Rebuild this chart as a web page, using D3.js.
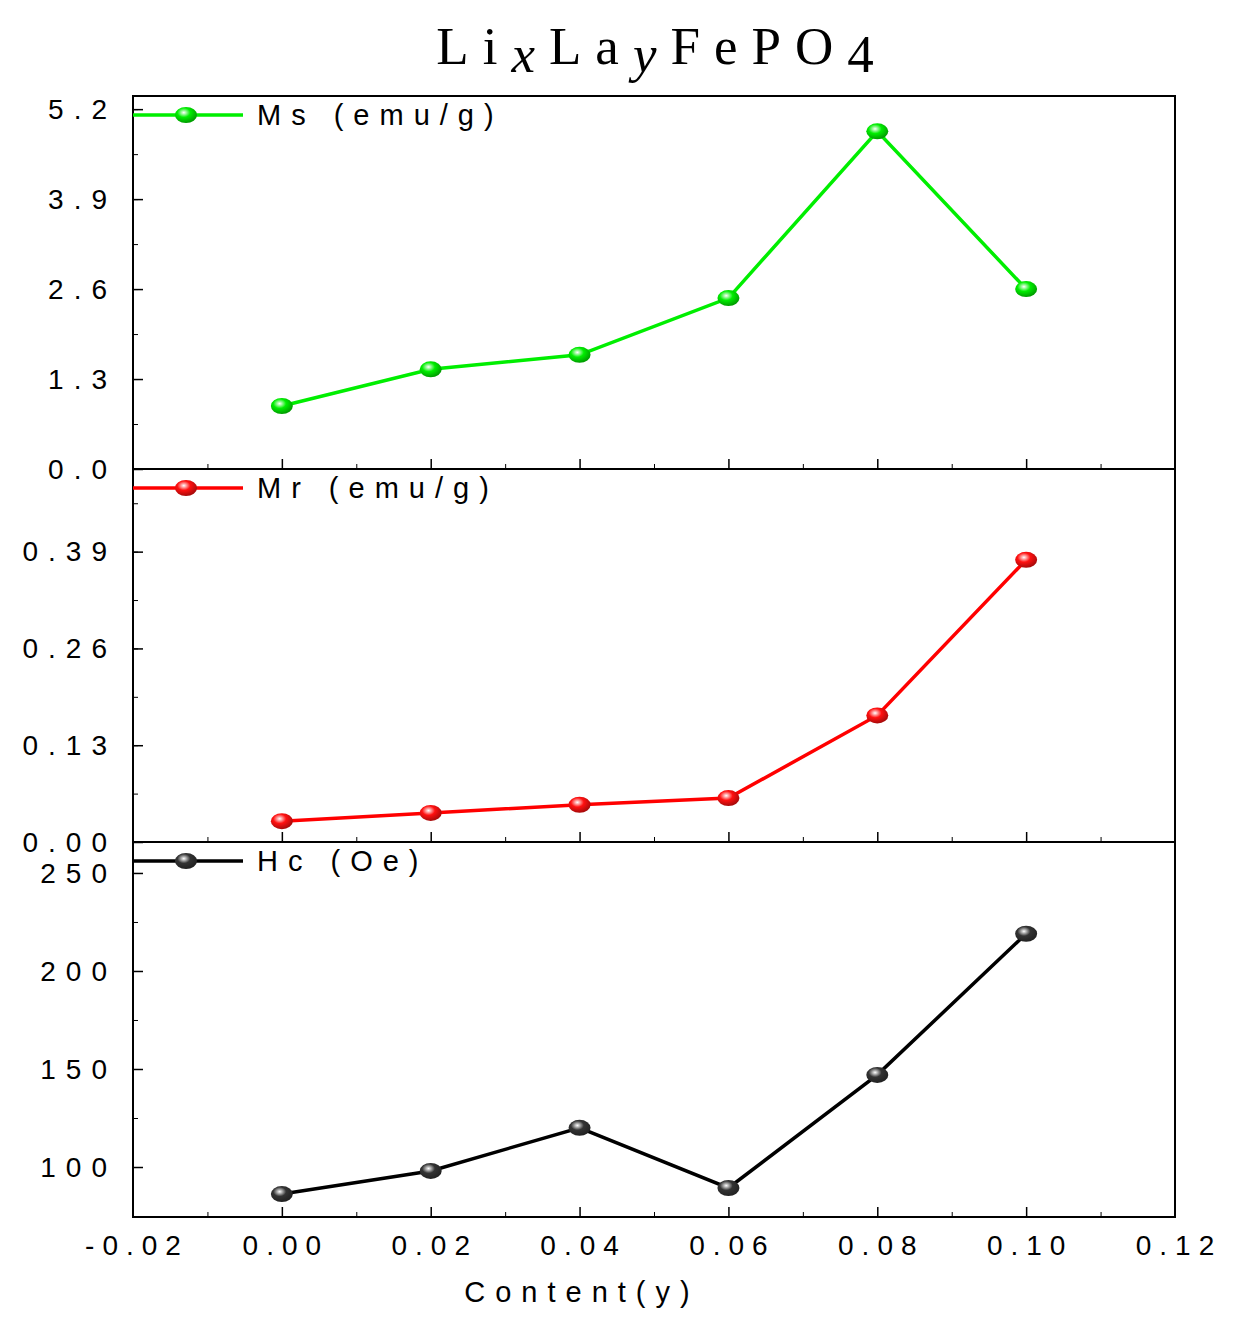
<!DOCTYPE html>
<html><head><meta charset="utf-8">
<script src="https://cdn.jsdelivr.net/npm/d3@7"></script>
<style>body{margin:0;background:#fff}</style></head>
<body><svg id="chart" width="1233" height="1323"></svg>
<script>
const content = [0.00, 0.02, 0.04, 0.06, 0.08, 0.10];
const msValues = [0.91, 1.44, 1.65, 2.47, 4.88, 2.60];
const mrValues = [0.028, 0.039, 0.050, 0.059, 0.170, 0.379];
const hcValues = [86.2, 98, 120, 89.3, 147, 219];
const xTicks = [-0.02, 0, 0.02, 0.04, 0.06, 0.08, 0.10, 0.12];
const msTicks = [0, 1.3, 2.6, 3.9, 5.2];
const mrTicks = [0, 0.13, 0.26, 0.39];
const hcTicks = [100, 150, 200, 250];

const svg = d3.select("#chart");
const left = 133, right = 1175;
const font = "Arial, 'Liberation Sans', sans-serif";

const x = d3.scaleLinear().domain([-0.02, 0.12]).range([left, right]);

// sphere gradients
const defs = svg.append("defs");
function grad(id, c) {
  const g = defs.append("radialGradient").attr("id", id)
    .attr("cx", "40%").attr("cy", "35%").attr("r", "65%");
  g.append("stop").attr("offset", "0%").attr("stop-color", "#fff");
  g.append("stop").attr("offset", "45%").attr("stop-color", c);
  g.append("stop").attr("offset", "100%").attr("stop-color", d3.color(c).darker(1.2));
}
grad("gG", "#00ee00"); grad("gR", "#ff1010"); grad("gK", "#333");

const panels = [
  {vals: msValues, ticks: msTicks, dom: [0, 5.39], top: 96, bot: 469, color: "#00ee00", g: "gG", label: "Ms (emu/g)", fmt: d3.format(".1f"), minor: 0.65},
  {vals: mrValues, ticks: mrTicks, dom: [0, 0.501], top: 469, bot: 842, color: "#ff0000", g: "gR", label: "Mr (emu/g)", fmt: d3.format(".2f"), minor: 0.065},
  {vals: hcValues, ticks: hcTicks, dom: [74.5, 265.8], top: 842, bot: 1217, color: "#000", g: "gK", label: "Hc (Oe)", fmt: d3.format("d"), minor: 25}
];

panels.forEach(p => {
  const y = d3.scaleLinear().domain(p.dom).range([p.bot, p.top]);

  svg.append("rect").attr("x", left).attr("y", p.top)
    .attr("width", right - left).attr("height", p.bot - p.top)
    .attr("fill", "none").attr("stroke", "#000").attr("stroke-width", 2);

  // left axis, inward ticks
  const minors = d3.range(p.ticks[0] - p.minor * 2, p.dom[1], p.minor)
    .filter(v => v > p.dom[0] && v < p.dom[1]);
  svg.append("g").attr("transform", `translate(${left},0)`)
    .call(d3.axisRight(y).tickValues(minors).tickSize(5).tickFormat(""))
    .call(g => g.select(".domain").remove());
  svg.append("g").attr("transform", `translate(${left},0)`)
    .call(d3.axisRight(y).tickValues(p.ticks).tickSize(10).tickFormat(""))
    .call(g => g.select(".domain").remove())
    .selectAll("line").attr("stroke-width", 1.5);
  svg.append("g").selectAll("text").data(p.ticks).join("text")
    .attr("x", left - 16).attr("y", d => y(d)).attr("dy", "0.35em")
    .attr("text-anchor", "end").attr("font-family", font).attr("font-size", 28)
    .attr("letter-spacing", 10).text(d => p.fmt(d));

  // bottom ticks of each panel (inward)
  const xMinor = d3.range(-0.01, 0.12, 0.02);
  svg.append("g").attr("transform", `translate(0,${p.bot})`)
    .call(d3.axisTop(x).tickValues(xTicks.slice(1, -1)).tickSize(10).tickFormat(""))
    .call(g => g.select(".domain").remove())
    .selectAll("line").attr("stroke-width", 1.5);
  svg.append("g").attr("transform", `translate(0,${p.bot})`)
    .call(d3.axisTop(x).tickValues(xMinor).tickSize(5).tickFormat(""))
    .call(g => g.select(".domain").remove());

  const line = d3.line().x((d, i) => x(content[i])).y(d => y(d));
  svg.append("path").datum(p.vals).attr("d", line)
    .attr("fill", "none").attr("stroke", p.color).attr("stroke-width", 3.5);
  svg.append("g").selectAll("ellipse").data(p.vals).join("ellipse")
    .attr("cx", (d, i) => x(content[i])).attr("cy", d => y(d))
    .attr("rx", 11).attr("ry", 8).attr("fill", `url(#${p.g})`);

  // legend
  const ly = p.top + 19;
  svg.append("line").attr("x1", left).attr("x2", 243).attr("y1", ly).attr("y2", ly)
    .attr("stroke", p.color).attr("stroke-width", 3.5);
  svg.append("ellipse").attr("cx", 186).attr("cy", ly).attr("rx", 11).attr("ry", 8)
    .attr("fill", `url(#${p.g})`);
  svg.append("text").attr("x", 257).attr("y", ly).attr("dy", "0.35em")
    .attr("font-family", font).attr("font-size", 29).attr("letter-spacing", 10)
    .text(p.label);
});

// x tick labels
svg.append("g").selectAll("text").data(xTicks).join("text")
  .attr("x", d => x(d) + 4).attr("y", 1255).attr("text-anchor", "middle")
  .attr("font-family", font).attr("font-size", 28).attr("letter-spacing", 8)
  .text(d => d3.format(".2f")(d).replace("−", "-"));

svg.append("text").attr("x", 582).attr("y", 1302).attr("text-anchor", "middle")
  .attr("font-family", font).attr("font-size", 29).attr("letter-spacing", 10)
  .text("Content(y)");

// title
const t = svg.append("text").attr("x", 662).attr("y", 64).attr("text-anchor", "middle")
  .attr("font-family", "'Liberation Serif', 'DejaVu Serif', serif").attr("font-size", 53)
  .attr("letter-spacing", 14);
t.append("tspan").text("Li");
t.append("tspan").attr("font-style", "italic").attr("dy", 8).text("x");
t.append("tspan").attr("dy", -8).text("La");
t.append("tspan").attr("font-style", "italic").attr("dy", 8).text("y");
t.append("tspan").attr("dy", -8).text("FePO");
t.append("tspan").attr("dy", 8).text("4");
</script></body></html>
